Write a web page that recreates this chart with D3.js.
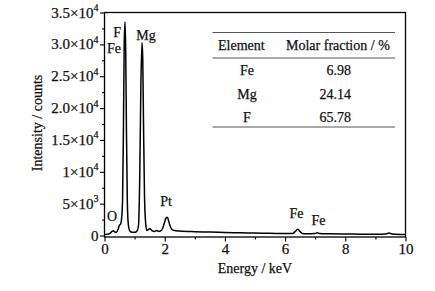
<!DOCTYPE html>
<html><head><meta charset="utf-8">
<script src="https://cdn.jsdelivr.net/npm/d3@7"></script>
<style>body{margin:0;background:#fff}svg{display:block}</style>
</head><body><svg id="c" width="435" height="291"></svg>
<script>
// Spectrum sample points (energy keV, counts)
const energy = [0.00,0.05,0.10,0.15,0.20,0.25,0.29,0.33,0.38,0.42,0.46,0.50,0.53,0.56,0.60,0.63,0.655,0.68,0.705,0.73,0.76,0.79,0.83,0.88,0.95,1.02,1.08,1.13,1.17,1.21,1.245,1.27,1.295,1.33,1.37,1.41,1.45,1.50,1.55,1.60,1.66,1.74,1.80,1.86,1.93,1.99,2.04,2.09,2.13,2.18,2.24,2.32,2.5,3.0,3.5,4.0,4.5,5.0,5.5,6.0,6.25,6.34,6.42,6.49,6.57,6.7,7.0,7.07,7.14,7.5,8.0,8.5,9.0,9.35,9.45,9.55,10.0];
const counts = [150,180,220,260,420,650,760,600,480,650,1100,1650,1750,2300,5500,17000,30000,33500,29000,16000,5000,1800,800,550,500,520,700,1600,9000,24000,30300,28000,18000,6000,1800,800,900,1100,900,700,650,800,650,700,1100,2000,2700,2850,2300,1500,950,780,700,600,540,480,430,390,350,300,330,650,1000,650,330,290,330,430,320,270,240,220,200,260,380,260,180];
const yTicks = [0,5000,10000,15000,20000,25000,30000,35000];
const yTickLabels = [["0",""],["5×10","3"],["1×10","4"],["1.5×10","4"],["2.0×10","4"],["2.5×10","4"],["3.0×10","4"],["3.5×10","4"]];
const xTicks = [0,2,4,6,8,10];
const peakLabels = ["F","Fe","Mg","Pt","O","Fe","Fe"];
const tableHead = ["Element","Molar fraction / %"];
const tableElements = ["Fe","Mg","F"];
const tableValues = ["6.98","24.14","65.78"];

// annotation pixel anchors (layout, not data)
const peakAnchor = [[121,37,"end"],[121,53,"end"],[146,40,"middle"],[166,206,"middle"],[112,221,"middle"],[296.5,218,"middle"],[318.5,225,"middle"]];

const svg = d3.select("#c");
const FONT = "'Liberation Serif', 'Times New Roman', serif";
const L=104.5, R=405.5, T=12.5, B=237;
const x = d3.scaleLinear().domain([0,10]).range([L,R]);
const y = d3.scaleLinear().domain([-230,35000]).range([B,T]);
function txt(sel, size){ return sel.style("font-family",FONT).style("font-size",(size||14)+"px")
  .attr("fill","#111").attr("stroke","#111").attr("stroke-width",0.25); }

// frame
svg.append("rect").attr("x",L).attr("y",T).attr("width",R-L).attr("height",B-T).attr("fill","none").attr("stroke","#000").attr("stroke-width",1.3);

// y axis
const yAx = svg.append("g").attr("transform",`translate(${L},0)`)
  .call(d3.axisLeft(y).tickValues(yTicks).tickSize(4.5).tickFormat(""));
yAx.select(".domain").remove();
const yMinor = svg.append("g").attr("transform",`translate(${L},0)`)
  .call(d3.axisLeft(y).tickValues(d3.range(2500,35000,5000)).tickSize(2.5).tickFormat(""));
yMinor.select(".domain").remove();
yTickLabels.forEach((lab,i)=>{
  const t = txt(svg.append("text"),15).attr("x",L-6).attr("y",y(yTicks[i])+5).attr("text-anchor","end");
  t.append("tspan").text(lab[0]);
  if(lab[1]) t.append("tspan").attr("dy",-6.5).style("font-size","10px").text(lab[1]);
});

// x axis
const xAx = svg.append("g").attr("transform",`translate(0,${B})`)
  .call(d3.axisBottom(x).tickValues(xTicks).tickSize(4.5).tickFormat(d3.format("d")));
xAx.select(".domain").remove();
txt(xAx.selectAll("text"),15).attr("dy","0.75em").attr("y",6);
const xMinor = svg.append("g").attr("transform",`translate(0,${B})`)
  .call(d3.axisBottom(x).tickValues([1,3,5,7,9]).tickSize(2.5).tickFormat(""));
xMinor.select(".domain").remove();
svg.selectAll(".tick line").attr("stroke","#000").attr("stroke-width",1.1);

// titles
txt(svg.append("text")).attr("x",255).attr("y",273).attr("text-anchor","middle").text("Energy / keV");
txt(svg.append("text")).attr("transform","translate(42,123) rotate(-90)").attr("text-anchor","middle").text("Intensity / counts");

// spectrum
const pts = energy.map((e,i)=>[e,counts[i]]);
svg.append("path").datum(pts).attr("fill","none").attr("stroke","#000").attr("stroke-width",1.5).attr("stroke-linejoin","round")
  .attr("d",d3.line().x(d=>x(d[0])).y(d=>y(d[1])).curve(d3.curveMonotoneX));

// peak labels
peakLabels.forEach((p,i)=>{
  txt(svg.append("text")).attr("x",peakAnchor[i][0]).attr("y",peakAnchor[i][1]).attr("text-anchor",peakAnchor[i][2]).text(p);
});

// table
const tx0=212.5, tx1=395;
[32.5,58,127].forEach((yy)=>svg.append("line").attr("x1",tx0).attr("x2",tx1).attr("y1",yy).attr("y2",yy).attr("stroke","#555").attr("stroke-width",1.1));
txt(svg.append("text")).attr("x",218).attr("y",50).text(tableHead[0]);
txt(svg.append("text")).attr("x",286).attr("y",50).text(tableHead[1]);
tableElements.forEach((el,i)=>{
  const yy = 75 + i*23.5;
  txt(svg.append("text")).attr("x",247).attr("y",yy).attr("text-anchor","middle").text(el);
  txt(svg.append("text")).attr("x",351).attr("y",yy).attr("text-anchor","end").text(tableValues[i]);
});
</script></body></html>
